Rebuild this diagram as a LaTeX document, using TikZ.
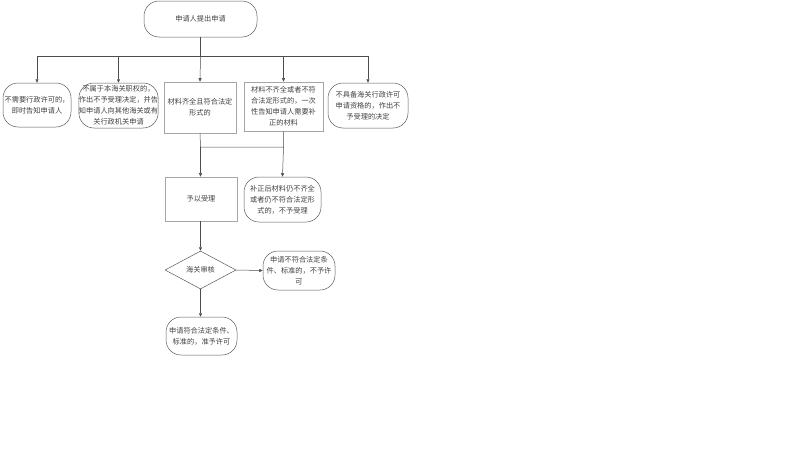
\documentclass[tikz,border=0pt]{standalone}
\usepackage{fontspec}
\setmainfont{Noto Sans CJK SC}
\usetikzlibrary{shapes.geometric,arrows.meta}
\begin{document}
\begin{tikzpicture}[x=1pt,y=-1pt,
  every node/.style={font=\fontsize{7.2}{11}\selectfont, text=black!75, align=center, inner sep=0pt},
  rbox/.style={draw=black!65, line width=0.5pt, rounded corners=15pt},
  sbox/.style={draw=black!35, line width=0.6pt},
  conn/.style={draw=black!70, line width=0.5pt},
  arr/.style={conn, -{Triangle[length=3.5pt,width=3pt]}}]
\useasboundingbox (0,0) rectangle (800,450);
% top
\node[rbox, minimum width=113pt, minimum height=36pt] (start) at (200.5,19) {申请人提出申请};
% row 1
\node[rbox, minimum width=68pt, minimum height=44pt] (n1) at (37,105) {不需要行政许可的，\\即时告知申请人};
\node[rbox, minimum width=77pt, minimum height=45pt] (n2) at (118.5,105.5) {不属于本海关职权的，\\作出不予受理决定，并告\\知申请人向其他海关或有\\关行政机关申请};
\node[sbox, minimum width=72pt, minimum height=51pt] (n3) at (200,107.5) {材料齐全且符合法定\\形式的};
\node[sbox, minimum width=79pt, minimum height=49pt] (n4) at (283.5,106.5) {材料不齐全或者不符\\合法定形式的，一次\\性告知申请人需要补\\正的材料};
\node[rbox, minimum width=80pt, minimum height=45pt] (n5) at (368,105.5) {不具备海关行政许可\\申请资格的，作出不\\予受理的决定};
% row 2
\node[sbox, minimum width=72pt, minimum height=44pt] (acc) at (201,199) {予以受理};
\node[rbox, minimum width=77pt, minimum height=45pt] (rej) at (282.5,199.5) {补正后材料仍不齐全\\或者仍不符合法定形\\式的，不予受理};
% row 3
\node[diamond, aspect=1.85, draw=black!65, line width=0.5pt, minimum width=71pt, minimum height=38pt] (chk) at (200.5,270) {海关审核};
\node[rbox, minimum width=72pt, minimum height=39pt] (no) at (299,270.5) {申请不符合法定条\\件、标准的，不予许\\可};
% row 4
\node[rbox, minimum width=71pt, minimum height=38pt] (yes) at (201.5,336) {申请符合法定条件、\\标准的，准予许可};
% connectors
\coordinate (bus) at (200.5,56);
\draw[conn] (start.south) -- (bus);
\draw[conn] (n1.north |- bus) -- (n5.north |- bus);
\draw[arr] (n1.north |- bus) -- (n1.north);
\draw[arr] (n2.north |- bus) -- (n2.north);
\draw[arr] (bus) -- (n3.north);
\draw[arr] (n4.north |- bus) -- (n4.north);
\draw[arr] (n5.north |- bus) -- (n5.north);
\coordinate (bus2) at (200.5,147);
\draw[conn] (n3.south) -- (bus2) -- (n4.south |- bus2) -- (n4.south);
\draw[arr] (bus2) -- (bus2 |- acc.north);
\draw[arr] (n4.south |- bus2) -- (rej.north);
\draw[arr] (acc.south -| chk.north) -- (chk.north);
\draw[arr] (chk.east) -- (no.west);
\draw[arr] (chk.south) -- (chk.south |- yes.north);
\end{tikzpicture}
\end{document}
